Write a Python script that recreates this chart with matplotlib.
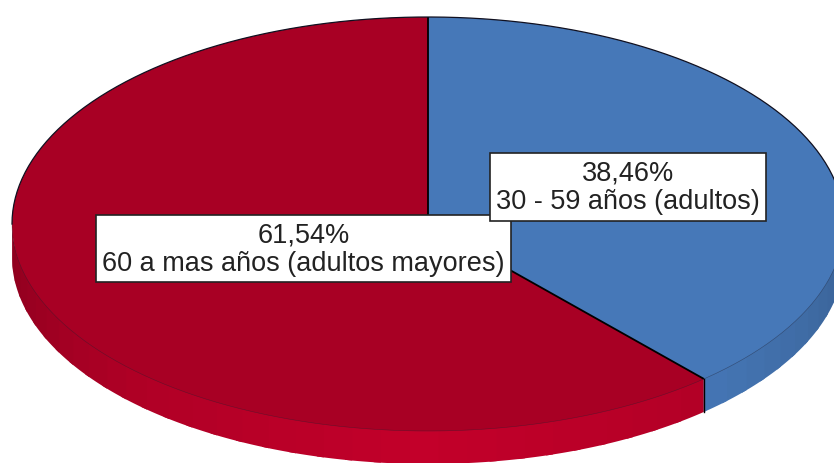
import matplotlib
matplotlib.use('Agg')
import matplotlib.pyplot as plt
from matplotlib.patches import Polygon
import numpy as np

plt.rcParams['font.family'] = ['Liberation Sans', 'DejaVu Sans']

percents = [38.46, 61.54]
percent_labels = ['38,46%', '61,54%']
groups = ['30 - 59 años (adultos)', '60 a mas años (adultos mayores)']
colors = ['#4678b8', '#a80024']

# wall shading, angle clockwise from the top -> brightness factor
wall_angles = [[90, 138.5], [138.5, 180, 225, 270]]
wall_shade = [[0.80, 0.98], [1.06, 1.16, 1.04, 0.83]]

W, H = 834, 464
CX, CY, RX, RY = 428, 225, 416, 207
DEPTH = 33 / RY

fig = plt.figure(figsize=(W / 100, H / 100), dpi=100)
ax = fig.add_axes([0, 0, 1, 1])

def pt(ang):
    a = np.radians(ang)
    return np.sin(a), np.cos(a)

def draw_wall(i):
    base = np.array(matplotlib.colors.to_rgb(colors[i]))
    a0, a1 = wall_angles[i][0], wall_angles[i][-1]
    edges = np.arange(a0, a1, 4.0).tolist() + [a1]
    for p, q in zip(edges[:-1], edges[1:]):
        # each band overlaps the next one a little to hide the seams
        ang = np.linspace(p, min(q + 1.0, a1), 10)
        x, y = pt(ang)
        xy = np.r_[np.c_[x, y + 0.01], np.c_[x[::-1], y[::-1] - DEPTH]]
        f = np.interp((p + q) / 2, wall_angles[i], wall_shade[i])
        ax.add_patch(Polygon(xy, closed=True, fc=np.clip(base * f, 0, 1), ec='none', zorder=1))

wedges, _ = ax.pie(percents, colors=colors, startangle=90, counterclock=False, radius=1,
                   wedgeprops={'linewidth': 0, 'zorder': 2})
ax.set_aspect('auto')
ax.set_xlim(-CX / RX, (W - CX) / RX)
ax.set_ylim(-(H - CY) / RY, CY / RY)

for i in [0, 1]:
    draw_wall(i)

# black slice borders and rim
cuts = np.r_[0, np.cumsum(percents)] * 3.6
for c in cuts[:-1]:
    x, y = pt(c)
    ax.plot([0, x], [0, y], color='black', lw=1.3, zorder=3, solid_capstyle='butt')
x, y = pt(cuts[1])
ax.plot([x, x], [y, y - DEPTH], color='black', lw=1.0, zorder=3)
x, y = pt(np.linspace(-90, 90, 200))
ax.plot(x, y, color='#101020', lw=0.9, zorder=3)
x, y = pt(np.linspace(90, 270, 200))
ax.plot(x, y, color='#202030', lw=0.4, alpha=0.5, zorder=3)

def to_data(px, py):
    return (px - CX) / RX, (CY - py) / RY

label_pos = [(628, 188), (303.5, 249.5)]
for i in [1, 0]:
    lx, ly = to_data(*label_pos[i])
    ax.text(lx, ly, percent_labels[i] + '\n' + groups[i], ha='center', va='center',
            fontsize=19.5, color='#222222', linespacing=1.13, zorder=6 - i,
            bbox={'boxstyle': 'square,pad=0.24', 'fc': 'white', 'ec': '#222222', 'lw': 1.2})

fig.savefig('out.png', dpi=100, facecolor='white')
